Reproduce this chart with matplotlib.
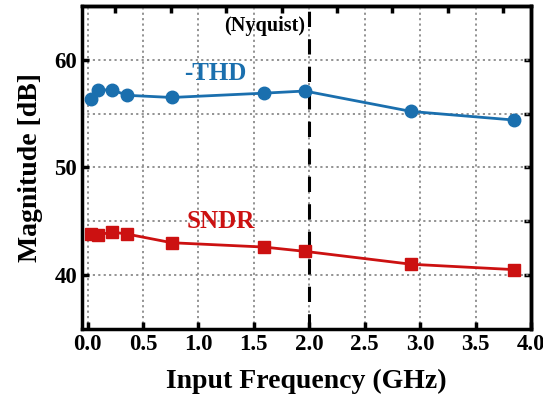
import matplotlib

matplotlib.use("Agg")
import matplotlib.pyplot as plt
import numpy as np

# input frequency (GHz) and measured dynamic performance (dB)
freq_ghz = [0.03, 0.09, 0.22, 0.36, 0.76, 1.59, 1.96, 2.92, 3.85]
thd_neg = [56.4, 57.2, 57.2, 56.7, 56.5, 56.9, 57.1, 55.2, 54.4]
sndr = [43.8, 43.7, 44.0, 43.8, 43.0, 42.6, 42.2, 41.0, 40.5]
nyquist_ghz = 2.0

BLUE = "#1a6fae"
RED = "#cc1111"

plt.rcParams["font.family"] = ["Liberation Serif", "DejaVu Serif"]
plt.rcParams["font.weight"] = "bold"

fig = plt.figure(figsize=(5.43, 4.01), dpi=100)
ax = fig.add_axes([0.151, 0.180, 0.827, 0.805])

ax.plot(freq_ghz, thd_neg, color=BLUE, lw=2, marker="o", ms=9, zorder=4)
ax.plot(freq_ghz, sndr, color=RED, lw=2, marker="s", ms=8, zorder=4)
ax.axvline(nyquist_ghz, color="black", lw=2.2, dashes=(5, 4), zorder=3)

ax.text(1.96, 63.1, "(Nyquist)", ha="right", va="center", fontsize=14.5, fontweight="bold")
ax.text(1.15, 58.7, "-THD", ha="center", va="center", fontsize=18, fontweight="bold", color=BLUE)
ax.text(1.20, 45.0, "SNDR", ha="center", va="center", fontsize=18, fontweight="bold", color=RED)

ax.set_xlim(-0.05, 4.0)
ax.set_ylim(35, 65)
ax.set_xticks(np.arange(0, 4.01, 0.5))
ax.set_yticks([40, 50, 60])
ax.set_yticks([45, 55], minor=True)
ax.grid(True, which="both", color="#8a8a8a", ls=(0, (1.2, 1.8)), lw=1.3)
ax.set_axisbelow(True)

ax.tick_params(axis="both", which="both", direction="in", length=5, width=2.5,
               labelsize=16.5, top=False, right=False)
ax.tick_params(axis="y", which="minor", length=0)

# secondary tick marks along the top and right edges
top = ax.secondary_xaxis("top")
top.set_xticks(np.arange(0.25, 4.0, 0.5))
top.tick_params(direction="in", length=5, width=2.5, labeltop=False)
right = ax.secondary_yaxis("right")
right.set_yticks([40, 45, 50, 55, 60])
right.tick_params(direction="in", length=5, width=2.5, labelright=False)
for sec in (top, right):
    for s in sec.spines.values():
        s.set_linewidth(2.5)

for s in ax.spines.values():
    s.set_linewidth(2.5)

for lab in ax.get_xticklabels() + ax.get_yticklabels():
    lab.set_fontweight("bold")

ax.set_xlabel("Input Frequency (GHz)", fontsize=20, fontweight="bold", labelpad=10)
ax.set_ylabel("Magnitude [dB]", fontsize=20, fontweight="bold", labelpad=8)

fig.savefig("out.png", dpi=100)
